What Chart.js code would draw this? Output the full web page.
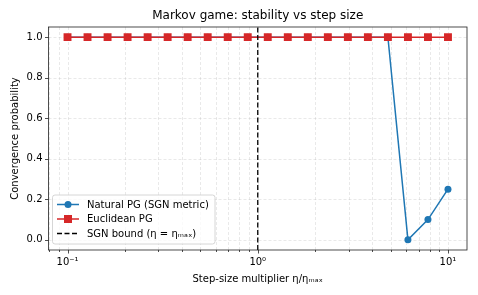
<!DOCTYPE html>
<html lang="en">
	<head>
		<meta charset="UTF-8" />
		<title>Markov game: stability vs step size</title>
		<script src="https://cdn.jsdelivr.net/npm/chart.js"></script>
		<style>
			html, body { margin: 0; padding: 0; background: #fff; }
			#wrap { width: 478px; height: 295px; }
		</style>
	</head>
	<body>
		<div id="wrap"><canvas id="chart" width="478" height="295"></canvas></div>
		<script>
			// step-size multipliers (eta / eta_max), 20 log-spaced points
			const stepSizes = [
				0.1, 0.1274, 0.1624, 0.2069, 0.2637, 0.3360, 0.4281, 0.5456, 0.6952, 0.8859,
				1.1288, 1.4384, 1.8330, 2.3357, 2.9764, 3.7927, 4.8329, 6.1585, 7.8476, 10.0
			];
			const naturalPG = [1, 1, 1, 1, 1, 1, 1, 1, 1, 1, 1, 1, 1, 1, 1, 1, 1, 0.0, 0.1, 0.25];
			const euclideanPG = [1, 1, 1, 1, 1, 1, 1, 1, 1, 1, 1, 1, 1, 1, 1, 1, 1, 1, 1, 1];
			const boundX = 1;
			const yTicks = [0, 0.2, 0.4, 0.6, 0.8, 1.0];
			const xMajor = [0.1, 1, 10];
			const xLabels = { 0.1: "10\u207B\u00B9", 1: "10\u2070", 10: "10\u00B9" };

			const FONT = "DejaVu Sans";
			const xMin = Math.pow(10, -1.1), xMax = Math.pow(10, 1.1);

			// minor ticks 2..9 per decade inside range
			const xMinor = [];
			[0.01, 0.1, 1, 10].forEach((d) => {
				for (let k = 2; k <= 9; k++) {
					const v = d * k;
					if (v >= xMin && v <= xMax) xMinor.push(v);
				}
			});

			const toPts = (ys) => stepSizes.map((x, i) => ({ x: x, y: ys[i] }));

			// ticks, spines, title, legend in matplotlib style
			const mplLook = {
				id: "mplLook",
				beforeDatasetsDraw(chart) {
					const { ctx, chartArea: a, scales } = chart;
					ctx.save();
					ctx.strokeStyle = "rgba(176,176,176,0.35)";
					ctx.lineWidth = 0.8;
					ctx.setLineDash([3, 2]);
					xMajor.concat(xMinor).forEach((v) => {
						const px = Math.round(scales.x.getPixelForValue(v)) + 0.5;
						ctx.beginPath(); ctx.moveTo(px, a.top); ctx.lineTo(px, a.bottom); ctx.stroke();
					});
					yTicks.forEach((v) => {
						const py = Math.round(scales.y.getPixelForValue(v)) + 0.5;
						ctx.beginPath(); ctx.moveTo(a.left, py); ctx.lineTo(a.right, py); ctx.stroke();
					});
					ctx.restore();
				},
				afterDraw(chart) {
					const { ctx, chartArea: a, scales } = chart;
					ctx.save();
					ctx.strokeStyle = "#222";
					ctx.lineWidth = 0.8;
					ctx.strokeRect(a.left, a.top, a.right - a.left, a.bottom - a.top);
					ctx.beginPath();
					xMajor.forEach((v) => {
						const px = Math.round(scales.x.getPixelForValue(v)) + 0.5;
						ctx.moveTo(px, a.bottom); ctx.lineTo(px, a.bottom + 3.5);
					});
					xMinor.forEach((v) => {
						const px = Math.round(scales.x.getPixelForValue(v)) + 0.5;
						ctx.moveTo(px, a.bottom); ctx.lineTo(px, a.bottom + 2);
					});
					yTicks.forEach((v) => {
						const py = Math.round(scales.y.getPixelForValue(v)) + 0.5;
						ctx.moveTo(a.left, py); ctx.lineTo(a.left - 3.5, py);
					});
					ctx.stroke();

					// title
					ctx.fillStyle = "#000";
					ctx.font = "12px " + FONT;
					ctx.textAlign = "center";
					ctx.textBaseline = "middle";
					ctx.fillText("Markov game: stability vs step size", (a.left + a.right) / 2, 16);

					// legend
					const lx = 52.5, ly = 195, lw = 162.5, lh = 49;
					ctx.fillStyle = "rgba(255,255,255,0.8)";
					ctx.strokeStyle = "#cccccc";
					ctx.lineWidth = 0.8;
					ctx.beginPath();
					ctx.roundRect(lx, ly, lw, lh, 2.5);
					ctx.fill(); ctx.stroke();
					const rows = [
						{ y: 204.5, color: "#1f77b4", marker: "circle", text: "Natural PG (SGN metric)" },
						{ y: 219, color: "#d62728", marker: "square", text: "Euclidean PG" },
						{ y: 233.5, color: "#000", marker: null, text: "SGN bound (\u03B7 = \u03B7\u2098\u2090\u2093)" }
					];
					rows.forEach((r) => {
						ctx.strokeStyle = r.color;
						ctx.lineWidth = 1.5;
						ctx.setLineDash(r.marker ? [] : [5, 2.5]);
						ctx.beginPath(); ctx.moveTo(57, r.y); ctx.lineTo(79, r.y); ctx.stroke();
						ctx.setLineDash([]);
						ctx.fillStyle = r.color;
						if (r.marker === "circle") {
							ctx.beginPath(); ctx.arc(68, r.y, 3.5, 0, Math.PI * 2); ctx.fill();
						} else if (r.marker === "square") {
							ctx.fillRect(64, r.y - 4, 8, 8);
						}
						ctx.fillStyle = "#000";
						ctx.font = "10px " + FONT;
						ctx.textAlign = "left";
						ctx.fillText(r.text, 87, r.y + 0.5);
					});
					ctx.restore();
				}
			};

			new Chart(document.getElementById("chart"), {
				type: "line",
				data: {
					datasets: [
						{
							label: "SGN bound",
							data: [{ x: boundX, y: -0.05 }, { x: boundX, y: 1.05 }],
							borderColor: "#000",
							borderWidth: 1.3,
							borderDash: [5, 2.5],
							pointRadius: 0,
							order: 0
						},
						{
							label: "Euclidean PG",
							data: toPts(euclideanPG),
							borderColor: "#d62728",
							backgroundColor: "#d62728",
							borderWidth: 1.5,
							pointStyle: "rect",
							pointRadius: 5.6,
							pointBorderWidth: 0,
							order: 1
						},
						{
							label: "Natural PG (SGN metric)",
							data: toPts(naturalPG),
							borderColor: "#1f77b4",
							backgroundColor: "#1f77b4",
							borderWidth: 1.5,
							pointStyle: "circle",
							pointRadius: 3.5,
							pointBorderWidth: 0,
							order: 2
						}
					]
				},
				options: {
					responsive: false,
					animation: false,
					events: [],
					layout: { padding: { left: 0, right: 11, top: 27, bottom: 0 } },
					plugins: { legend: { display: false }, title: { display: false }, tooltip: { enabled: false } },
					scales: {
						x: {
							type: "logarithmic",
							min: xMin,
							max: xMax,
							afterBuildTicks: (s) => { s.ticks = xMajor.map((v) => ({ value: v })); },
							afterFit: (s) => { s.height = 45; },
							grid: { display: false, drawTicks: false },
							border: { display: false },
							ticks: {
								autoSkip: false,
								maxRotation: 0,
								padding: 6,
								color: "#000",
								font: { family: FONT, size: 10 },
								callback: (v) => xLabels[v] || ""
							},
							title: {
								display: true,
								text: "Step-size multiplier \u03B7/\u03B7\u2098\u2090\u2093",
								color: "#000",
								font: { family: FONT, size: 10 },
								padding: { top: 2, bottom: 10 }
							}
						},
						y: {
							min: -0.05,
							max: 1.05,
							afterBuildTicks: (s) => { s.ticks = yTicks.map((v) => ({ value: v })); },
							afterFit: (s) => { s.width = 48.5; },
							grid: { display: false, drawTicks: false },
							border: { display: false },
							ticks: {
								padding: 6,
								color: "#000",
								font: { family: FONT, size: 10 },
								callback: (v) => v.toFixed(1)
							},
							title: {
								display: true,
								text: "Convergence probability",
								color: "#000",
								font: { family: FONT, size: 10 },
								padding: { top: 9, bottom: 2 }
							}
						}
					}
				},
				plugins: [mplLook]
			});
		</script>
	</body>
</html>
